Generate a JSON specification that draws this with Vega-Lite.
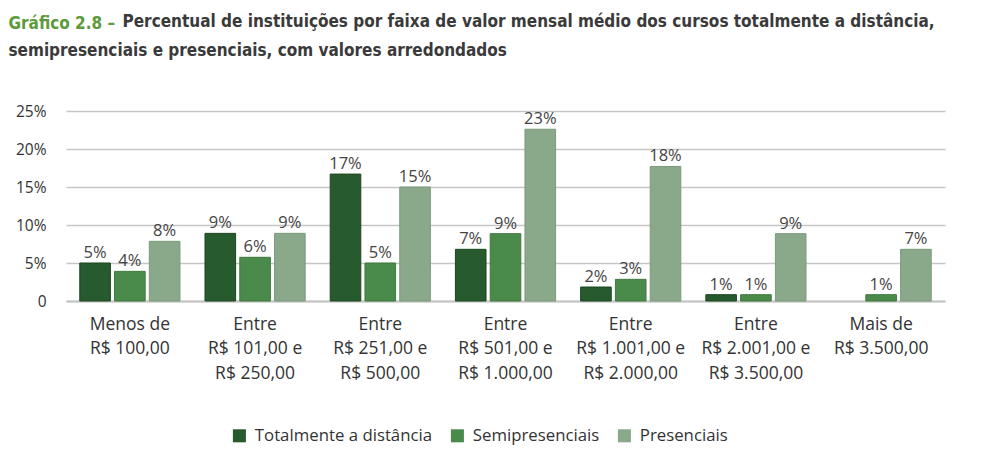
{
  "$schema": "https://vega.github.io/schema/vega-lite/v6.json",
  "width": 879,
  "height": 190,
  "padding": {"left": 8, "right": 5, "top": 12, "bottom": 5},
  "background": "white",
  "config": {
    "view": {"stroke": null},
    "font": "Open Sans"
  },
  "title": {
    "text": "Gráfico 2.8 –",
    "subtitle": "semipresenciais e presenciais, com valores arredondados",
    "anchor": "start",
    "frame": "bounds",
    "dx": -7,
    "font": "'DejaVu Sans Condensed', Lato, sans-serif",
    "fontSize": 17,
    "fontWeight": "bold",
    "color": "#5c9a3c",
    "subtitleFont": "'DejaVu Sans Condensed', Lato, sans-serif",
    "subtitleFontSize": 17,
    "subtitleFontWeight": "bold",
    "subtitleColor": "#3a3a3a",
    "subtitlePadding": 10,
    "offset": -48
  },
  "data": {
    "values": [
      {"faixa": "Menos de\nR$ 100,00", "tipo": "Totalmente a distância", "valor": 0.050},
      {"faixa": "Menos de\nR$ 100,00", "tipo": "Semipresenciais", "valor": 0.039},
      {"faixa": "Menos de\nR$ 100,00", "tipo": "Presenciais", "valor": 0.0785},
      {"faixa": "Entre\nR$ 101,00 e\nR$ 250,00", "tipo": "Totalmente a distância", "valor": 0.089},
      {"faixa": "Entre\nR$ 101,00 e\nR$ 250,00", "tipo": "Semipresenciais", "valor": 0.0575},
      {"faixa": "Entre\nR$ 101,00 e\nR$ 250,00", "tipo": "Presenciais", "valor": 0.089},
      {"faixa": "Entre\nR$ 251,00 e\nR$ 500,00", "tipo": "Totalmente a distância", "valor": 0.167},
      {"faixa": "Entre\nR$ 251,00 e\nR$ 500,00", "tipo": "Semipresenciais", "valor": 0.050},
      {"faixa": "Entre\nR$ 251,00 e\nR$ 500,00", "tipo": "Presenciais", "valor": 0.150},
      {"faixa": "Entre\nR$ 501,00 e\nR$ 1.000,00", "tipo": "Totalmente a distância", "valor": 0.068},
      {"faixa": "Entre\nR$ 501,00 e\nR$ 1.000,00", "tipo": "Semipresenciais", "valor": 0.0886},
      {"faixa": "Entre\nR$ 501,00 e\nR$ 1.000,00", "tipo": "Presenciais", "valor": 0.226},
      {"faixa": "Entre\nR$ 1.001,00 e\nR$ 2.000,00", "tipo": "Totalmente a distância", "valor": 0.0184},
      {"faixa": "Entre\nR$ 1.001,00 e\nR$ 2.000,00", "tipo": "Semipresenciais", "valor": 0.0285},
      {"faixa": "Entre\nR$ 1.001,00 e\nR$ 2.000,00", "tipo": "Presenciais", "valor": 0.177},
      {"faixa": "Entre\nR$ 2.001,00 e\nR$ 3.500,00", "tipo": "Totalmente a distância", "valor": 0.0083},
      {"faixa": "Entre\nR$ 2.001,00 e\nR$ 3.500,00", "tipo": "Semipresenciais", "valor": 0.0083},
      {"faixa": "Entre\nR$ 2.001,00 e\nR$ 3.500,00", "tipo": "Presenciais", "valor": 0.0886},
      {"faixa": "Mais de\nR$ 3.500,00", "tipo": "Semipresenciais", "valor": 0.0083},
      {"faixa": "Mais de\nR$ 3.500,00", "tipo": "Presenciais", "valor": 0.068}
    ]
  },
  "encoding": {
    "x": {
      "field": "faixa",
      "type": "nominal",
      "sort": null,
      "scale": {"paddingInner": 0.2, "paddingOuter": 0.11},
      "axis": {
        "title": null,
        "labelAngle": 0,
        "labelExpr": "split(datum.label, '\\n')",
        "labelFontSize": 17.5,
        "labelColor": "#333333",
        "labelLineHeight": 24.5,
        "labelBaseline": "top",
        "labelPadding": 14,
        "labelLimit": 200,
        "ticks": false,
        "domain": true,
        "domainColor": "#c4c4c4",
        "domainWidth": 2
      }
    },
    "xOffset": {
      "field": "tipo",
      "type": "nominal",
      "sort": ["Totalmente a distância", "Semipresenciais", "Presenciais"],
      "scale": {"paddingInner": 0.12}
    },
    "y": {
      "field": "valor",
      "type": "quantitative",
      "scale": {"domain": [0, 0.25], "nice": false},
      "axis": {
        "values": [0, 0.05, 0.10, 0.15, 0.20, 0.25],
        "format": ".0%",
        "labelExpr": "datum.value === 0 ? '0' : datum.label",
        "labelFontSize": 15.5,
        "labelColor": "#333333",
        "labelPadding": 20,
        "ticks": false,
        "domain": false,
        "grid": true,
        "gridColor": "#c6c6c6",
        "gridWidth": 1.5,
        "title": "Percentual de instituições por faixa de valor mensal médio dos cursos totalmente a distância,",
        "titleAngle": 0,
        "titleAlign": "left",
        "titleBaseline": "alphabetic",
        "titleX": 56,
        "titleY": -85,
        "titleFont": "'DejaVu Sans Condensed', Lato, sans-serif",
        "titleFontSize": 17,
        "titleFontWeight": "bold",
        "titleColor": "#3a3a3a"
      }
    }
  },
  "layer": [
    {
      "mark": {"type": "bar", "strokeWidth": 1},
      "encoding": {
        "color": {
          "field": "tipo",
          "type": "nominal",
          "sort": ["Totalmente a distância", "Semipresenciais", "Presenciais"],
          "scale": {
            "domain": ["Totalmente a distância", "Semipresenciais", "Presenciais"],
            "range": ["#275b2d", "#4a8a4a", "#8aa98a"]
          },
          "legend": {
            "orient": "none",
            "legendX": 165,
            "legendY": 316,
            "direction": "horizontal",
            "title": null,
            "padding": 0,
            "symbolType": "square",
            "symbolSize": 170,
            "symbolStrokeWidth": 0,
            "labelFontSize": 16.8,
            "labelColor": "#333333",
            "labelLimit": 300,
            "labelOffset": 7,
            "columnPadding": 16
          }
        },
        "stroke": {
          "field": "tipo",
          "type": "nominal",
          "scale": {
            "domain": ["Totalmente a distância", "Semipresenciais", "Presenciais"],
            "range": ["#1c4621", "#3d7a3d", "#7a9a7a"]
          },
          "legend": null
        }
      }
    },
    {
      "mark": {"type": "text", "baseline": "bottom", "dy": -2, "fontSize": 16.5, "color": "#444444"},
      "encoding": {
        "text": {"field": "valor", "type": "quantitative", "format": ".0%"}
      }
    }
  ]
}
